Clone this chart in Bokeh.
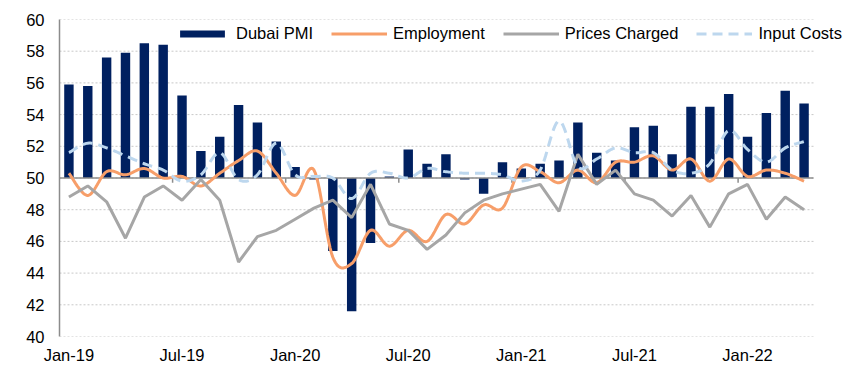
import numpy as np
import pandas as pd
from bokeh.plotting import figure
from bokeh.models import FixedTicker, Legend, LegendItem
from bokeh.embed import file_html
from bokeh.resources import INLINE

months = list(pd.date_range("2019-01-01", periods=40, freq="MS").strftime("%b-%y"))
tick_labels = ["Jan-19", "Jul-19", "Jan-20", "Jul-20", "Jan-21", "Jul-21", "Jan-22"]
y_ticks = [40, 42, 44, 46, 48, 50, 52, 54, 56, 58, 60]

dubai_pmi = [55.9, 55.8, 57.6, 57.9, 58.5, 58.4, 55.2, 51.7, 52.6, 54.6, 53.5, 52.3,
             50.7, 49.9, 45.4, 41.6, 45.9, 50.1, 51.8, 50.9, 51.5, 49.9, 49.0, 51.0,
             50.6, 50.9, 51.1, 53.5, 51.6, 51.1, 53.2, 53.3, 51.5, 54.5, 54.5, 55.3,
             52.6, 54.1, 55.5, 54.7]
employment = [50.3, 48.9, 50.4, 50.2, 50.6, 50.0, 50.1, 49.5, 50.3, 51.1, 51.7, 50.3,
              48.9, 50.5, 45.0, 44.6, 46.7, 45.7, 46.7, 46.0, 47.7, 47.1, 48.3, 48.1,
              50.7, 50.4, 49.7, 50.5, 49.7, 51.0, 51.0, 51.4, 50.5, 51.2, 49.8, 51.2,
              50.1, 50.5, 50.3, 49.8]
prices_charged = [48.8, 49.5, 48.5, 46.2, 48.8, 49.5, 48.6, 49.9, 48.6, 44.7, 46.3, 46.7,
                  47.4, 48.1, 48.6, 47.5, 49.6, 47.1, 46.7, 45.5, 46.4, 47.8, 48.6, 49.0,
                  49.3, 49.6, 47.9, 51.5, 49.6, 50.5, 49.0, 48.6, 47.6, 48.9, 46.9, 49.0,
                  49.6, 47.4, 48.8, 48.0]
input_costs = [51.6, 52.2, 51.9, 51.4, 50.9, 50.5, 49.8, 50.2, 51.6, 49.9, 50.2, 52.2,
               50.2, 50.1, 50.0, 48.7, 50.3, 50.3, 50.0, 50.6, 50.4, 50.3, 50.3, 50.2,
               49.8, 50.5, 53.6, 50.7, 51.2, 51.9, 51.6, 51.6, 50.5, 50.3, 50.9, 53.0,
               51.8, 51.0, 51.9, 52.3]

FONT = "Liberation Sans"
FS = "16.5px"

W, H = 855, 375
LEFT, RIGHT, TOP, BOTTOM = 59, 5, 19, 39
DATA_W = 754  # width in px of the category area (the rest holds the legend)

n = len(months)
x = np.arange(n)
tick_idx = [months.index(t) for t in tick_labels]
frame_w = W - LEFT - RIGHT
x_end = -0.5 + n * frame_w / DATA_W
x_lo, x_hi = -0.5, n - 0.5


def smooth(xs, ys, k=14):
    """Excel-like smoothed line (Catmull-Rom as cubic Bezier)."""
    xs = np.asarray(xs, float)
    ys = np.asarray(ys, float)
    px = np.concatenate([[xs[0]], xs, [xs[-1]]])
    py = np.concatenate([[ys[0]], ys, [ys[-1]]])
    outx, outy = [xs[0]], [ys[0]]
    t = np.linspace(0, 1, k + 1)[1:]
    for i in range(1, len(px) - 2):
        p0x, p0y = px[i], py[i]
        p3x, p3y = px[i + 1], py[i + 1]
        c1x = p0x + (px[i + 1] - px[i - 1]) / 6
        c1y = p0y + (py[i + 1] - py[i - 1]) / 6
        c2x = p3x - (px[i + 2] - px[i]) / 6
        c2y = p3y - (py[i + 2] - py[i]) / 6
        bx = (1 - t) ** 3 * p0x + 3 * (1 - t) ** 2 * t * c1x + 3 * (1 - t) * t ** 2 * c2x + t ** 3 * p3x
        by = (1 - t) ** 3 * p0y + 3 * (1 - t) ** 2 * t * c1y + 3 * (1 - t) * t ** 2 * c2y + t ** 3 * p3y
        outx.extend(bx)
        outy.extend(by)
    return outx, outy


p = figure(width=W, height=H, x_range=(-0.5, x_end), y_range=(y_ticks[0], y_ticks[-1]),
           output_backend="svg", toolbar_location=None,
           min_border_left=LEFT, min_border_right=RIGHT, min_border_top=TOP,
           min_border_bottom=BOTTOM)
p.outline_line_color = None
p.background_fill_color = "white"

# dotted horizontal gridlines limited to the category area
p.segment(x0=x_lo, x1=x_hi, y0=y_ticks, y1=y_ticks, line_color="#c8c8c8",
          line_width=1, line_dash="2 2")

bars = p.vbar(x=x, bottom=50, top=dubai_pmi, width=0.5, fill_color="#002060", line_color=None)
p.segment(x0=x_lo, x1=x_hi, y0=50, y1=50, line_color="#8c8c8c", line_width=1.5)
p.segment(x0=[i - 0.5 for i in tick_idx[1:]], x1=[i - 0.5 for i in tick_idx[1:]],
          y0=50, y1=49.7, line_color="#8c8c8c", line_width=1.5)

ex, ey = smooth(x, employment)
emp = p.line(ex, ey, line_color="#F79E69", line_width=3)
pc = p.line(x, prices_charged, line_color="#A6A6A6", line_width=3)
ix, iy = smooth(x, input_costs)
inp = p.line(ix, iy, line_color="#BDD7EE", line_width=3, line_dash="10 6")

legend = Legend(items=[LegendItem(label="Dubai PMI", renderers=[bars]),
                       LegendItem(label="Employment", renderers=[emp]),
                       LegendItem(label="Prices Charged", renderers=[pc]),
                       LegendItem(label="Input Costs", renderers=[inp])],
                orientation="horizontal", location=(115, 293),
                glyph_width=56, glyph_height=9, label_standoff=6, spacing=18,
                padding=0, margin=0, label_text_font=FONT, label_text_font_size=FS,
                label_text_color="black", background_fill_alpha=0, border_line_alpha=0)
p.add_layout(legend)

p.yaxis.ticker = FixedTicker(ticks=y_ticks)
p.yaxis.axis_line_color = "#8c8c8c"
p.yaxis.axis_line_width = 1.5
p.yaxis.major_tick_line_color = None
p.yaxis.major_tick_out = 0
p.yaxis.major_tick_in = 0
p.yaxis.minor_tick_line_color = None
p.yaxis.major_label_standoff = 15
p.yaxis.major_label_text_font = FONT
p.yaxis.major_label_text_font_size = FS
p.yaxis.major_label_text_color = "black"

p.xaxis.ticker = FixedTicker(ticks=tick_idx)
p.xaxis.major_label_overrides = {i: lab for i, lab in zip(tick_idx, tick_labels)}
p.xaxis.axis_line_color = None
p.xaxis.major_tick_line_color = None
p.xaxis.major_tick_out = 0
p.xaxis.major_tick_in = 0
p.xaxis.minor_tick_line_color = None
p.xaxis.major_label_standoff = 9
p.xaxis.major_label_text_font = FONT
p.xaxis.major_label_text_font_size = FS
p.xaxis.major_label_text_color = "black"

p.xgrid.grid_line_color = None
p.ygrid.grid_line_color = None

open("out.html", "w").write(file_html(p, INLINE))
